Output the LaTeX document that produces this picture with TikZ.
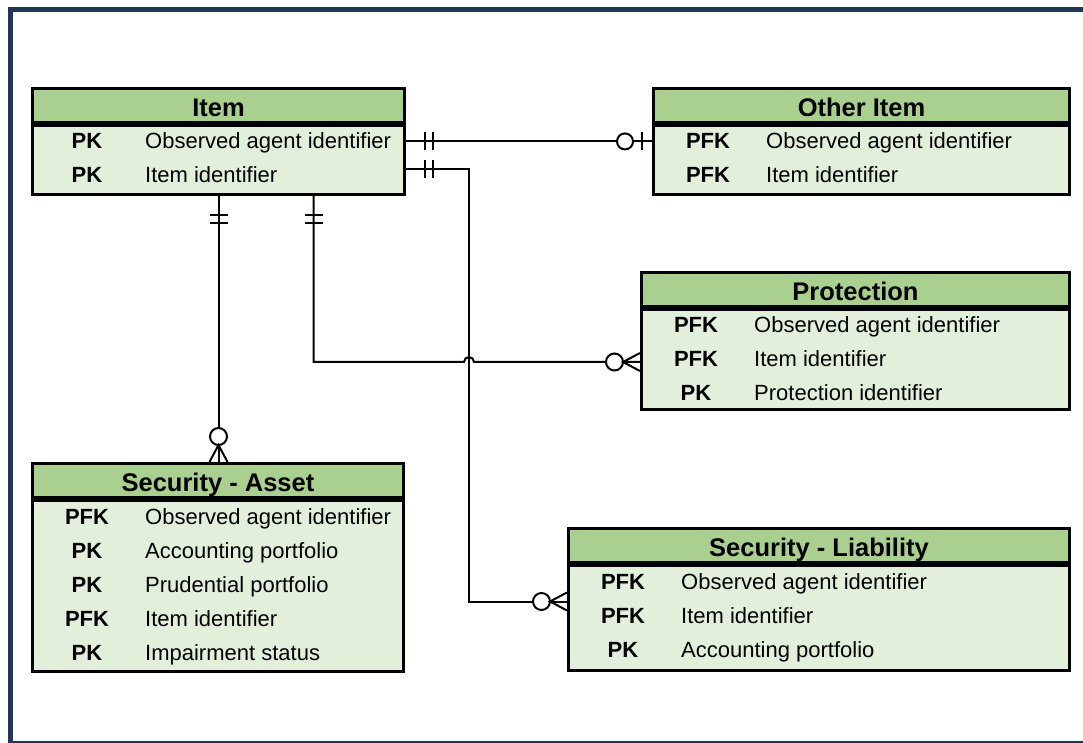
\documentclass[tikz,border=0pt]{standalone}
\usepackage{fontspec}
\setmainfont{Liberation Sans}
\usepackage{tikz}
\usetikzlibrary{calc,decorations.markings}
\definecolor{frameblue}{RGB}{31,56,90}
\definecolor{headgreen}{RGB}{169,208,142}
\definecolor{bodygreen}{RGB}{226,239,218}
\tikzset{entity/.style={draw,line width=3pt,fill=headgreen,anchor=north west,minimum height=34pt,
    inner sep=0pt,text height=22pt,text depth=0pt,font=\fontsize{25.5}{26}\selectfont\bfseries}}
\tikzset{attrs/.style={draw,line width=3pt,fill=bodygreen,anchor=north west,inner sep=0pt}}
\tikzset{key/.style={anchor=base,inner sep=0pt,font=\fontsize{22}{24}\selectfont\bfseries}}
\tikzset{field/.style={anchor=base west,inner sep=0pt,font=\fontsize{22}{24}\selectfont}}
\tikzset{rel/.style={line width=2pt}}
\tikzset{onlyone/.style={postaction={decorate,decoration={markings,
    mark=at position 19pt with {\draw[line width=2pt] (0pt,-9pt) -- (0pt,9pt);},
    mark=at position 27pt with {\draw[line width=2pt] (0pt,-9pt) -- (0pt,9pt);}}}}}
\tikzset{zeroone/.style={postaction={decorate,decoration={markings,
    mark=at position -27pt with {\draw[line width=2pt,fill=white] (0pt,0pt) circle (8pt);},
    mark=at position -10pt with {\draw[line width=2pt] (0pt,-9pt) -- (0pt,9pt);}}}}}
\tikzset{zeromany/.style={postaction={decorate,decoration={markings,
    mark=at position -25.5pt with {\draw[line width=2pt,fill=white] (0pt,0pt) circle (8.5pt);},
    mark=at position -17pt with {\draw[line width=2pt] (17pt,9pt) -- (0pt,0pt) -- (17pt,-9pt);}}}}}

\begin{document}
\begin{tikzpicture}[x=1pt,y=1pt]
        \useasboundingbox (0,0) rectangle (1083,742);
        \clip (0,0) rectangle (1083,742);
        \draw [line width=5pt,frameblue] (10.5,-1.5) rectangle (1150,732.5);
        % Item
        \node [entity,minimum width=372pt] (item) at (31,655) {Item};
        \node [attrs,minimum width=372pt,minimum height=69pt] (item-body) at (item.south west) {};
        \node [key] (item-k1) at (87,593) {PK};
        \node [field] (item-f1) at (145,593) {Observed agent identifier};
        \node [key] (item-k2) at (87,559) {PK};
        \node [field] (item-f2) at (145,559) {Item identifier};
        % Other Item
        \node [entity,minimum width=416pt] (other) at (652,655) {Other Item};
        \node [attrs,minimum width=416pt,minimum height=69pt] (other-body) at (other.south west) {};
        \node [key] (other-k1) at (708,593) {PFK};
        \node [field] (other-f1) at (766,593) {Observed agent identifier};
        \node [key] (other-k2) at (708,559) {PFK};
        \node [field] (other-f2) at (766,559) {Item identifier};
        % Protection
        \node [entity,minimum width=428pt] (prot) at (640,471) {Protection};
        \node [attrs,minimum width=428pt,minimum height=100pt] (prot-body) at (prot.south west) {};
        \node [key] (prot-k1) at (696,409) {PFK};
        \node [field] (prot-f1) at (754,409) {Observed agent identifier};
        \node [key] (prot-k2) at (696,375) {PFK};
        \node [field] (prot-f2) at (754,375) {Item identifier};
        \node [key] (prot-k3) at (696,341) {PK};
        \node [field] (prot-f3) at (754,341) {Protection identifier};
        % Security - Asset
        \node [entity,minimum width=371pt] (asset) at (31,280) {Security - Asset};
        \node [attrs,minimum width=371pt,minimum height=171pt] (asset-body) at (asset.south west) {};
        \node [key] (asset-k1) at (87,218) {PFK};
        \node [field] (asset-f1) at (145,218) {Observed agent identifier};
        \node [key] (asset-k2) at (87,184) {PK};
        \node [field] (asset-f2) at (145,184) {Accounting portfolio};
        \node [key] (asset-k3) at (87,150) {PK};
        \node [field] (asset-f3) at (145,150) {Prudential portfolio};
        \node [key] (asset-k4) at (87,116) {PFK};
        \node [field] (asset-f4) at (145,116) {Item identifier};
        \node [key] (asset-k5) at (87,82) {PK};
        \node [field] (asset-f5) at (145,82) {Impairment status};
        % Security - Liability
        \node [entity,minimum width=501pt] (liab) at (567,215) {Security - Liability};
        \node [attrs,minimum width=501pt,minimum height=105pt] (liab-body) at (liab.south west) {};
        \node [key] (liab-k1) at (623,153) {PFK};
        \node [field] (liab-f1) at (681,153) {Observed agent identifier};
        \node [key] (liab-k2) at (623,119) {PFK};
        \node [field] (liab-f2) at (681,119) {Item identifier};
        \node [key] (liab-k3) at (623,85) {PK};
        \node [field] (liab-f3) at (681,85) {Accounting portfolio};
        % relationships
        \coordinate (item-out) at ($(item-body.east)+(0,-9.5)$);
        \coordinate (bend) at ($(item-out)+(63,0)$);
        \coordinate (liab-in) at ($(liab-body.west)+(0,16.5)$);
        \coordinate (item-drop) at ($(item-body.south)+(95,0)$);
        \coordinate (prot-in) at ($(prot-body.west)+(0,-2.5)$);
        \coordinate (jump) at (bend |- prot-in);
        \draw [rel,onlyone,zeroone] (item-body.east |- item-k1) -- (other-body.west |- item-k1);
        \draw [rel,onlyone,zeromany] (item-out) -- (bend) -- (bend |- liab-in) -- (liab-in);
        \draw [rel,onlyone,zeromany] (item-body.south) -- (item-body.south |- asset.north);
        \draw [rel,onlyone,zeromany] (item-drop) -- (item-drop |- prot-in)
            -- ([xshift=-5pt]jump) arc [start angle=180,end angle=0,radius=5pt] -- (prot-in);
\end{tikzpicture}
\end{document}
